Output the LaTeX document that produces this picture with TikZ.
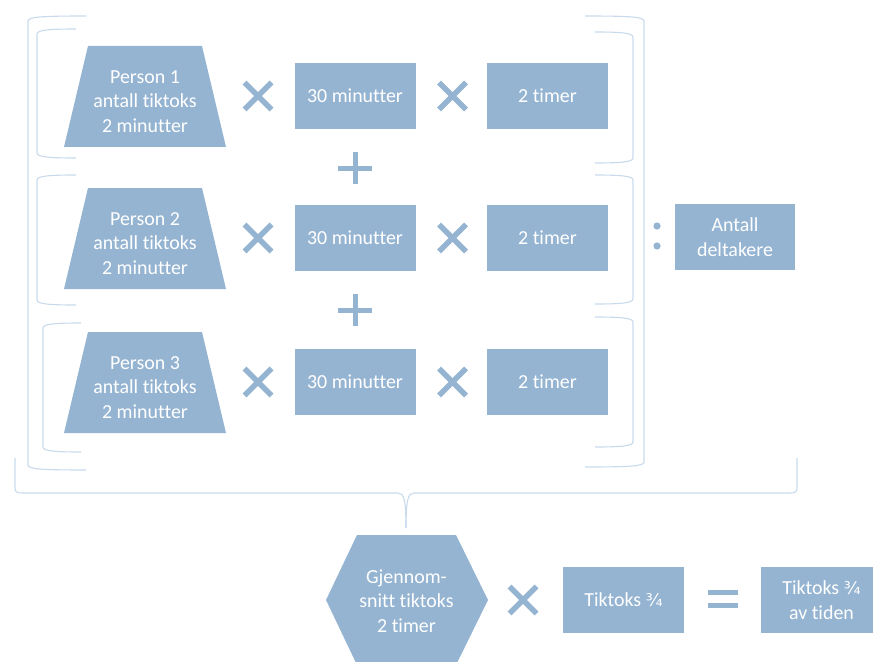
\documentclass[tikz,border=0pt]{standalone}
\usepackage{fontspec}
\setmainfont{Carlito}[Ligatures={NoCommon}]
\newfontfamily\fracfont{DejaVu Sans}
\newcommand\threequarter{{\fracfont\fontsize{17.5}{24.5}\selectfont ¾}}
\definecolor{fillb}{RGB}{149,180,210}
\definecolor{brk}{RGB}{200,218,236}
\tikzset{
  shapefill/.style={fill=fillb},
  lbl/.style={text=white, align=center, inner sep=0pt, font=\fontsize{20}{24.5}\selectfont},
  box/.style={fill=fillb, text=white, align=center, inner sep=0pt, minimum width=121bp, minimum height=66bp, font=\fontsize{20}{24.5}\selectfont},
  opsign/.style={draw=fillb, line width=5.5bp, line cap=butt},
  brack/.style={draw=brk, line width=1.1bp}
}
\newcommand\mulsign[3]{\draw[opsign] ({#2-13.5},{#3-13.5}) coordinate (#1a) -- ({#2+13.5},{#3+13.5}) ({#2-13.5},{#3+13.5}) -- ({#2+13.5},{#3-13.5});}
\newcommand\plussign[3]{\draw[opsign,line width=5bp] ({#2-17},{#3}) coordinate (#1a) -- ({#2+17},{#3}) ({#2},{#3-16}) -- ({#2},{#3+16});}
\newcommand\leftbrk[4]{% v, top, bottom, arm end
  \draw[brack] (#4,#2) .. controls ({#1+12},{#2}) and ({#1},{#2+1}) .. ({#1},{#2+5}) -- ({#1},{#3-5}) .. controls ({#1},{#3-1}) and ({#1+12},{#3}) .. (#4,#3);}
\newcommand\rightbrk[4]{% v, top, bottom, arm end
  \draw[brack] (#4,#2) .. controls ({#1-12},{#2}) and ({#1},{#2+1}) .. ({#1},{#2+5}) -- ({#1},{#3-5}) .. controls ({#1},{#3-1}) and ({#1-12},{#3}) .. (#4,#3);}
\begin{document}
\begin{tikzpicture}[x=1bp,y=-1bp]
\useasboundingbox (0,0) rectangle (873,662);
\clip (0,0) rectangle (873,662);
% rows
\foreach \r/\dy in {1/0,2/142,3/286}{
  \fill[shapefill] (88,{46+\dy}) -- (202,{46+\dy}) -- (226,{147+\dy}) -- (64,{147+\dy}) -- cycle;
  \node[lbl] (p\r) at (145,{101.5+\dy}) {Person \r\\antall tiktoks\\2 minutter};
  \node[box] (m\r) at (355,{96+\dy}) {30 minutter};
  \node[box] (t\r) at (547.5,{96+\dy}) {2 timer};
  \mulsign{xa\r}{258}{96+\dy}
  \mulsign{xb\r}{452.5}{96+\dy}
}
\plussign{pl1}{355}{168}
\plussign{pl2}{355}{310}
% small brackets
\leftbrk{37}{29}{158}{76}
\leftbrk{37}{175}{305}{76}
\leftbrk{43}{323}{452}{81}
\rightbrk{633}{32}{163}{595}
\rightbrk{633}{175}{304}{595}
\rightbrk{633}{317}{447}{595}
% outer brackets
\leftbrk{28}{16}{470}{86}
\rightbrk{644}{16}{467}{585}
% colon and divisor
\fill[fillb] (657,226) circle (3.6) (657,246) circle (3.6);
\node[box, minimum width=120bp] (ant) at (735,237) {Antall\\deltakere};
% big brace
\coordinate (tip) at (406,528);
\draw[brack] (15,458) -- (15,488) .. controls (15,492) and (17,493) .. (22,493) -- (398,493)
  .. controls (404,493) and (406,500) .. (tip);
\draw[brack] (797,458) -- (797,488) .. controls (797,492) and (795,493) .. (790,493) -- (414,493)
  .. controls (408,493) and (406,500) .. (tip);
% bottom row
\fill[shapefill] (357,535) -- (456,535) -- (488,600) -- (456,665) -- (357,665) -- (326,600) -- cycle;
\node[lbl] (avg) at (406.5,601) {Gjennom-\\snitt tiktoks\\2 timer};
\mulsign{xc}{523}{600}
\node[box] (tk) at (623.5,600) {Tiktoks \threequarter};
\draw[opsign, line width=5bp] (708,592) -- (738,592) (708,605) -- (738,605);
\node[box] (res) at (821.5,600) {Tiktoks \threequarter\\av tiden};
\end{tikzpicture}
\end{document}
